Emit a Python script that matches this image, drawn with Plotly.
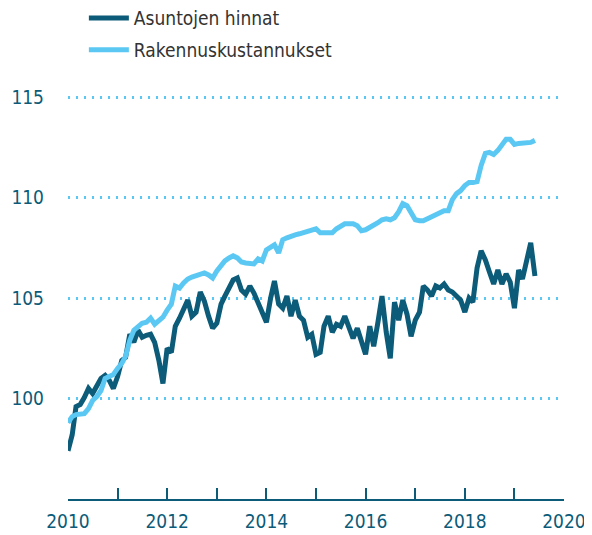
import pandas as pd
import plotly.graph_objects as go

# monthly index values, Jan 2010 -> Jun 2019
dates = pd.date_range("2010-01-01", periods=114, freq="MS")

asuntojen_hinnat = [
    97.4, 98.2, 99.6, 99.7, 100.05, 100.5, 100.25, 100.6, 101.0, 101.15, 100.9, 100.5,
    101.1, 101.9, 102.05, 103.2, 102.8, 103.4, 103.05, 103.15, 103.2, 102.8, 101.9, 100.75,
    102.5, 102.3, 103.6, 104.0, 104.5, 104.9, 104.1, 104.3, 105.3, 104.85, 104.1, 103.5,
    103.75, 104.7, 105.1, 105.45, 105.9, 106.0, 105.4, 105.2, 105.6, 105.25, 104.8, 104.3,
    103.8, 105.0, 105.85, 104.7, 104.5, 105.1, 104.1, 104.9, 104.1, 103.9, 103.05, 103.2,
    102.2, 102.3, 103.6, 104.1, 103.3, 103.7, 103.6, 104.1, 103.5, 103.0, 103.5, 102.9,
    102.2, 103.6, 102.6, 103.8, 105.1, 103.3, 102.0, 104.8, 103.9, 104.9, 104.2, 103.1,
    103.9, 104.3, 105.6, 105.4, 105.1, 105.6, 105.5, 105.7, 105.4, 105.3, 105.1, 104.9,
    104.3, 105.0, 104.8, 106.5, 107.35, 106.9, 106.3, 105.7, 106.4, 105.7, 106.2, 105.8,
    104.5, 106.4, 105.95, 106.9, 107.75, 106.1,
]

rakennuskustannukset = [
    98.8, 99.1, 99.2, 99.25, 99.25, 99.5, 99.9, 100.1, 100.4, 101.0, 101.1, 101.2,
    101.5, 101.75, 102.1, 102.9, 103.4, 103.6, 103.75, 103.8, 104.0, 103.7, 103.85, 104.05,
    104.4, 104.7, 105.6, 105.5, 105.75, 105.95, 106.05, 106.1, 106.2, 106.25, 106.15, 106.0,
    106.35, 106.6, 106.85, 107.0, 107.1, 107.0, 106.8, 106.75, 106.75, 106.7, 106.95, 106.85,
    107.4, 107.5, 107.65, 107.25, 107.9, 108.0, 108.1, 108.15, 108.2, 108.25, 108.3, 108.35,
    108.45, 108.25, 108.25, 108.2, 108.25, 108.45, 108.55, 108.7, 108.7, 108.7, 108.6, 108.35,
    108.4, 108.5, 108.6, 108.75, 108.9, 108.95, 108.9, 109.0, 109.3, 109.7, 109.6, 109.2,
    108.9, 108.85, 108.85, 108.95, 109.05, 109.2, 109.3, 109.35, 109.35, 109.9, 110.2, 110.35,
    110.6, 110.75, 110.75, 110.8, 111.6, 112.2, 112.25, 112.15, 112.35, 112.65, 112.9, 112.9,
    112.65, 112.7, 112.7, 112.7, 112.75, 112.85,
]

year_ticks = [str(y) for y in range(2010, 2021)]
year_labels = [y if int(y) % 2 == 0 else "" for y in year_ticks]
y_ticks = [100, 105, 110, 115]

dark = "#0b5b79"
light = "#5bc8f3"
cond = "DejaVu Sans Condensed, Liberation Sans Narrow, sans-serif"

fig = go.Figure()
fig.add_trace(go.Scatter(x=dates, y=asuntojen_hinnat, mode="lines", name="Asuntojen hinnat",
                         line=dict(color=dark, width=5), legendgroup="a"))
fig.add_trace(go.Scatter(x=dates, y=rakennuskustannukset, mode="lines", name="Rakennuskustannukset",
                         line=dict(color=light, width=5), legendgroup="b"))

# page has an 8px body margin, so the figure is 8px smaller than the window
fig.update_layout(
    width=584, height=527,
    margin=dict(l=60, r=28, t=49, b=36, autoexpand=False),
    plot_bgcolor="white", paper_bgcolor="white",
    showlegend=True,
    legend=dict(x=0.032, y=1.131, xanchor="left", yanchor="top",
                font=dict(family=cond, size=19, color="#333333"),
                tracegroupgap=4, itemwidth=40, bgcolor="rgba(0,0,0,0)"),
)
fig.update_xaxes(
    range=["2010-01-01", "2020-01-01"],
    tickvals=[y + "-01-01" for y in year_ticks], ticktext=year_labels,
    showgrid=False, showline=True, linecolor=dark, linewidth=2,
    ticks="inside", ticklen=11, tickwidth=2, tickcolor=dark,
    tickfont=dict(family=cond, size=19, color=dark), zeroline=False,
    automargin=False, ticklabelstandoff=4,
)
fig.update_yaxes(
    range=[95, 117], tickvals=y_ticks,
    showgrid=True, gridcolor=light, gridwidth=2.5, griddash="2px,6px",
    showline=False, zeroline=False, ticks="",
    ticklabelstandoff=23, automargin=False,
    tickfont=dict(family=cond, size=19, color=dark),
)

fig.write_html("out.html")
